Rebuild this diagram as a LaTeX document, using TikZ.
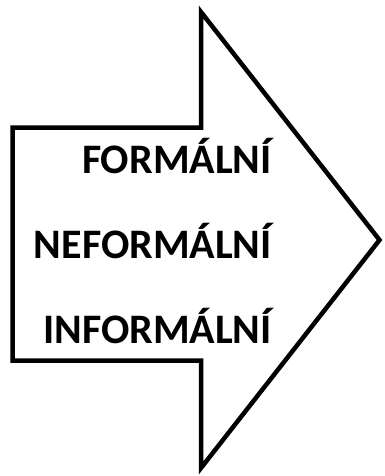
\documentclass[tikz,border=0pt]{standalone}
\usepackage{fontspec}
\setmainfont{Carlito}
\usetikzlibrary{positioning}

\begin{document}
\begin{tikzpicture}[
  x=1pt, y=-1pt,
  every node/.style={font=\fontsize{42}{42}\selectfont\bfseries, inner sep=0pt, anchor=base east},
  outline/.style={draw=black, line width=4.5pt, miter limit=10}
]
\useasboundingbox (0,0) rectangle (384,476);

\draw[outline] (12.5,127.5) -- (201,127.5) -- (201,12) -- (379.5,240)
  -- (201,468) -- (201,360.5) -- (12.5,360.5) -- cycle;

\node (formal) at (272,173) {FORMÁLNÍ};
\node (neformal) at (272,258) {NEFORMÁLNÍ};
\node (informal) at (272,343) {INFORMÁLNÍ};
\end{tikzpicture}
\end{document}
